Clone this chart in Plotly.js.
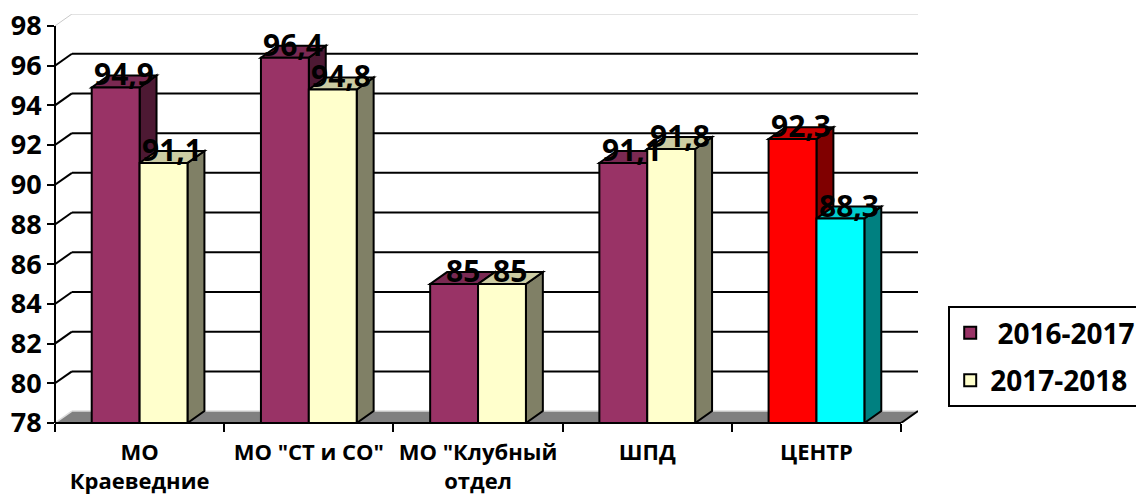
<!DOCTYPE html>
<html><head><meta charset="utf-8">
<script src="https://cdn.plot.ly/plotly-3.0.1.min.js"></script>
<style>html,body{margin:0;padding:0;background:#fff;}#chart{width:1136px;height:501px;}</style>
</head><body><div id="chart"></div>
<script>
// ---- data ----
const categories = ['МО<br>Краеведние', 'МО "СТ и СО"', 'МО "Клубный<br>отдел', 'ШПД', 'ЦЕНТР'];
const seriesNames = ['\u00a02016-2017', '2017-2018'];
const values2016 = [94.9, 96.4, 85, 91.1, 92.3];
const values2017 = [91.1, 94.8, 85, 91.8, 88.3];
const yTicks = [78, 80, 82, 84, 86, 88, 90, 92, 94, 96, 98];

// ---- styles ----
const front2016 = ['#993366', '#993366', '#993366', '#993366', '#FF0000'];
const side2016  = ['#4D1933', '#4D1933', '#4D1933', '#4D1933', '#800000'];
const top2016   = ['#7A2952', '#7A2952', '#7A2952', '#7A2952', '#CC0000'];
const front2017 = ['#FFFFCC', '#FFFFCC', '#FFFFCC', '#FFFFCC', '#00FFFF'];
const side2017  = ['#808066', '#808066', '#808066', '#808066', '#008080'];
const top2017   = ['#CCCCA3', '#CCCCA3', '#CCCCA3', '#CCCCA3', '#00CCCC'];

const BARGAP = 0.434;
const W = (1 - BARGAP) / 2;   // bar width in category units
const DX = 0.1;               // depth offset (category units)
const DY = 0.6;               // depth offset (value units)
const YMIN = yTicks[0], YMAX = yTicks[yTicks.length - 1];
const n = categories.length;
const XL = -0.5, XR = n - 0.5;
const FONT = 'Open Sans';

const series = [
  {name: seriesNames[0], vals: values2016, front: front2016, side: side2016, top: top2016, off: -W},
  {name: seriesNames[1], vals: values2017, front: front2017, side: side2017, top: top2017, off: 0}
];

const shapes = [];
const line = (x0, y0, x1, y1, color, width, extra) => Object.assign({
  type: 'line', xref: 'x', yref: 'y', x0, y0, x1, y1, layer: 'below',
  line: {color, width}
}, extra || {});

// floor
shapes.push({type: 'path', xref: 'x', yref: 'y', layer: 'below',
  path: `M${XL},${YMIN} L${XR},${YMIN} L${XR + DX},${YMIN + DY} L${XL + DX},${YMIN + DY} Z`,
  fillcolor: '#808080', line: {width: 0}});
shapes.push(line(XL + DX, YMIN + DY, XR + DX, YMIN + DY, '#dddddd', 1.5));
shapes.push(line(XL, YMIN, XL + DX, YMIN + DY, '#dddddd', 1.5));
shapes.push(line(XR, YMIN, XR + DX, YMIN + DY, '#000000', 2));

// back-wall gridlines and side diagonals
yTicks.slice(1).forEach(v => {
  const last = v === YMAX;
  const c = last ? '#c8c8c8' : '#000000';
  const w = last ? 1 : 2;
  shapes.push(line(XL + DX, v + DY, XR + DX, v + DY, c, w));
  shapes.push(line(XL, v, XL + DX, v + DY, c, w));
});

// 3D faces of every bar
const annotations = [];
for (let i = 0; i < n; i++) {
  series.forEach(s => {
    const v = s.vals[i];
    const xl = i + s.off, xr = xl + W;
    shapes.push({type: 'path', xref: 'x', yref: 'y', layer: 'below',
      path: `M${xr},${YMIN} L${xr},${v} L${xr + DX},${v + DY} L${xr + DX},${YMIN + DY} Z`,
      fillcolor: s.side[i], line: {color: '#000', width: 2}});
    shapes.push({type: 'path', xref: 'x', yref: 'y', layer: 'below',
      path: `M${xl},${v} L${xr},${v} L${xr + DX},${v + DY} L${xl + DX},${v + DY} Z`,
      fillcolor: s.top[i], line: {color: '#000', width: 2}});
    annotations.push({x: xl + W / 2 + DX / 2, y: v, xref: 'x', yref: 'y',
      text: String(v).replace('.', ','), showarrow: false,
      xanchor: 'center', yanchor: 'bottom', yshift: -9,
      font: {family: FONT, size: 30, weight: 'bold', color: '#000'}});
  });
}

// front floor edge and y axis line
shapes.push({type: 'line', xref: 'x', yref: 'paper', x0: XL, x1: XR, y0: 0, y1: 0,
  layer: 'above', line: {color: '#000', width: 2}});
shapes.push({type: 'line', xref: 'paper', yref: 'y', x0: 0, x1: 0, y0: YMIN, y1: YMAX,
  layer: 'above', line: {color: '#000', width: 2}});

const traces = series.map((s, k) => ({
  type: 'bar', name: s.name, x: categories, y: s.vals,
  legendgroup: 'g' + k,
  marker: {color: s.front, line: {color: '#000', width: 2}},
  hoverinfo: 'skip'
}));

const layout = {
  width: 1136, height: 501,
  margin: {l: 55, r: 218, t: 14, b: 78, autoexpand: false},
  paper_bgcolor: '#ffffff', plot_bgcolor: 'rgba(0,0,0,0)',
  barmode: 'group', bargap: BARGAP, bargroupgap: 0,
  showlegend: true,
  legend: {x: 1.035, y: 0.286, xanchor: 'left', yanchor: 'top',
    bordercolor: '#000', borderwidth: 2, bgcolor: '#fff',
    traceorder: 'grouped', tracegroupgap: 8,
    font: {family: FONT, size: 28, weight: 'bold', color: '#000'}},
  xaxis: {type: 'category', range: [XL, XR + DX], tickson: 'boundaries',
    ticks: 'outside', ticklen: 8, tickwidth: 2, tickcolor: '#000',
    ticklabelstandoff: 14,
    showgrid: false, zeroline: false, showline: false,
    tickfont: {family: FONT, size: 22, weight: 'bold', color: '#000'}},
  yaxis: {range: [YMIN, YMAX + DY], tickvals: yTicks, ticktext: yTicks.map(String),
    ticks: 'outside', ticklen: 7, tickwidth: 2, tickcolor: '#000',
    showgrid: false, zeroline: false, showline: false,
    tickfont: {family: FONT, size: 27, weight: 'bold', color: '#000'}},
  shapes, annotations
};

Plotly.newPlot('chart', traces, layout, {staticPlot: true, displayModeBar: false});
</script>
</body></html>
